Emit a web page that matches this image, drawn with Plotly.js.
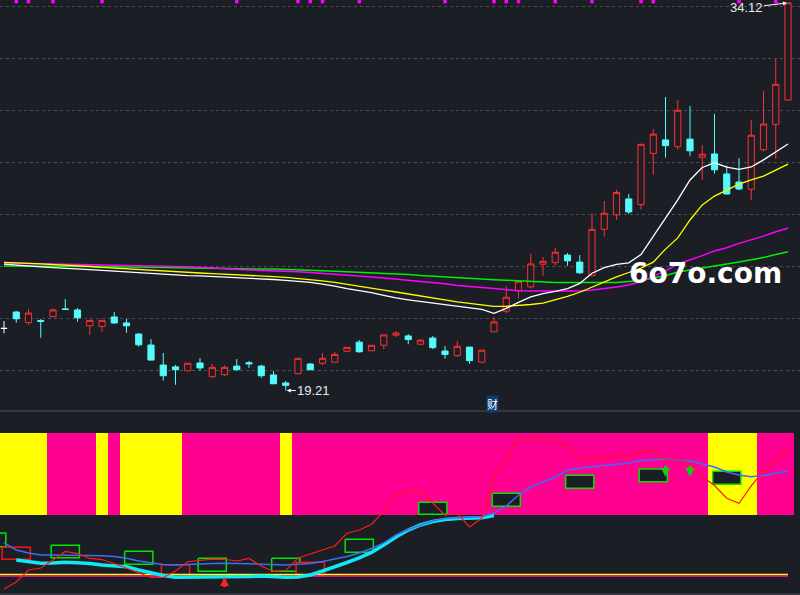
<!DOCTYPE html>
<html>
<head>
<meta charset="utf-8">
<script src="https://cdn.plot.ly/plotly-3.0.1.min.js"></script>
<style>
html,body{margin:0;padding:0;background:#1c1e25;}
#chart{width:800px;height:595px;}
</style>
</head>
<body>
<div id="chart"></div>
<script>
// ---------- candle data (index = trading day) ----------
const open  = [21.60,22.23,21.82,21.90,22.05,22.35,22.31,21.70,21.67,22.04,
               21.81,21.38,20.96,20.19,20.12,19.97,20.27,19.74,19.82,20.15,
               20.28,20.15,19.81,19.50,19.86,20.23,20.26,20.30,20.72,21.07,
               20.74,20.95,21.34,21.31,20.99,21.23,20.73,20.55,20.88,20.30,
               21.47,22.26,23.05,23.20,24.07,24.13,24.42,24.15,23.63,25.41,
               25.97,26.58,26.36,28.33,28.85,28.59,28.88,28.18,28.31,27.54,
               27.23,26.95,28.47,29.45,30.38];
const close = [21.60,21.97,22.19,21.87,22.31,22.33,22.01,21.91,21.91,21.81,
               21.70,20.97,20.38,19.78,20.01,20.26,20.08,20.10,20.10,20.01,
               20.24,19.78,19.47,19.41,20.45,20.01,20.45,20.60,20.87,20.70,
               20.95,21.35,21.42,21.17,21.15,20.86,20.60,20.91,20.36,20.76,
               21.85,22.80,23.41,24.08,24.18,24.53,24.20,23.74,25.41,26.03,
               26.83,26.08,28.68,29.07,28.63,29.99,28.43,28.30,27.70,26.77,
               26.96,29.03,29.46,30.99,34.12];
const high  = [21.88,22.27,22.35,21.96,22.36,22.73,22.38,21.91,21.91,22.23,
               21.96,21.42,21.19,20.65,20.19,20.26,20.46,20.23,20.18,20.42,
               20.35,20.20,19.96,19.58,20.45,20.27,20.65,20.69,20.87,21.15,
               20.95,21.35,21.50,21.38,21.19,21.31,20.92,21.12,20.88,20.76,
               22.03,23.23,23.45,24.47,24.35,24.70,24.50,24.42,26.03,26.50,
               26.93,26.77,28.68,29.27,30.50,30.38,30.15,28.65,29.85,27.86,
               28.15,29.62,30.73,31.96,34.12];
const low   = [21.41,21.82,21.74,21.24,22.05,22.33,21.86,21.35,21.47,21.77,
               21.43,20.90,20.38,19.59,19.43,19.97,19.97,19.70,19.77,19.97,
               20.08,19.70,19.47,19.21,19.86,20.01,20.19,20.30,20.68,20.67,
               20.74,20.80,21.26,20.99,20.99,20.80,20.43,20.51,20.24,20.26,
               21.47,22.19,22.76,23.13,23.63,24.01,24.01,23.69,23.63,25.13,
               25.78,26.00,26.17,27.51,28.17,28.47,28.24,27.32,27.55,26.74,
               26.92,26.55,28.40,28.12,30.38];

// ---------- moving averages ----------
const maWhite = [24.07,24.03,24.00,23.97,23.94,23.92,23.88,23.86,23.83,23.80,
                 23.78,23.75,23.72,23.69,23.67,23.63,23.62,23.60,23.58,23.56,
                 23.53,23.50,23.48,23.45,23.42,23.37,23.30,23.23,23.13,23.06,
                 22.98,22.87,22.77,22.70,22.64,22.57,22.50,22.44,22.39,22.33,
                 22.18,22.37,22.60,22.81,22.94,23.02,23.13,23.33,23.72,23.94,
                 24.06,24.12,24.44,25.13,25.83,26.54,27.31,27.79,27.97,27.80,
                 27.72,27.81,28.08,28.38,28.69];
const maYellow = [24.14,24.13,24.10,24.08,24.06,24.04,24.02,23.98,23.95,23.92,
                  23.89,23.87,23.83,23.81,23.78,23.76,23.73,23.71,23.69,23.67,
                  23.64,23.62,23.59,23.56,23.52,23.48,23.43,23.37,23.29,23.21,
                  23.13,23.07,23.00,22.92,22.84,22.77,22.69,22.62,22.56,22.51,
                  22.45,22.45,22.48,22.52,22.57,22.69,22.83,22.99,23.19,23.38,
                  23.58,23.75,23.92,24.15,24.65,25.08,25.77,26.35,26.69,26.92,
                  27.15,27.31,27.46,27.69,27.92];
const maMagenta = [24.12,24.11,24.10,24.10,24.10,24.08,24.07,24.07,24.06,24.05,
                   24.03,24.02,24.01,24.00,23.99,23.97,23.95,23.92,23.90,23.87,
                   23.85,23.83,23.82,23.81,23.78,23.75,23.72,23.69,23.65,23.62,
                   23.58,23.54,23.50,23.45,23.41,23.37,23.32,23.25,23.20,23.17,
                   23.13,23.08,23.05,23.04,23.04,23.04,23.04,23.04,23.08,23.13,
                   23.19,23.27,23.40,23.59,23.81,24.08,24.23,24.40,24.58,24.70,
                   24.87,25.00,25.15,25.32,25.45];
const maGreen = [24.00,24.00,24.00,23.99,23.99,23.98,23.98,23.98,23.97,23.97,
                 23.97,23.96,23.95,23.94,23.93,23.92,23.91,23.90,23.89,23.89,
                 23.88,23.88,23.88,23.87,23.85,23.83,23.82,23.80,23.78,23.77,
                 23.75,23.73,23.71,23.67,23.63,23.60,23.57,23.55,23.52,23.49,
                 23.47,23.45,23.43,23.40,23.38,23.37,23.37,23.37,23.37,23.37,
                 23.37,23.40,23.44,23.54,23.63,23.77,23.85,23.94,24.02,24.08,
                 24.15,24.23,24.33,24.44,24.55];

// top signal markers (days)
const signalDays = [1,2,4,8,19,24,25,26,29,36,40,41,42,45,48,52,53,60,63];
const signalLevel = 34.17;

// ---------- lower indicator ----------
const bandState = [1,1,1,1,0,0,0,0,1,0, 1,1,1,1,1,0,0,0,0,0,
                   0,0,0,1,0,0,0,0,0,0, 0,0,0,0,0,0,0,0,0,0,
                   0,0,0,0,0,0,0,0,0,0, 0,0,0,0,0,0,0,0,1,1,
                   1,1,0,0,0];
const bandTop = 100;
const redLine = [-90.2,-81.7,-67.1,-64.6,-54.9,-44.5,-47.0,-52.8,-54.3,-59.1,
                 -65.0,-70.7,-76.2,-76.2,-68.3,-57.0,-54.9,-53.7,-54.0,-56.1,
                 -53.0,-62.2,-68.9,-67.7,-52.4,-47.6,-43.3,-37.8,-22.3,-18.3,
                 -11.6,4.3,24.4,29.3,29.3,14.3,0.0,2.1,-14.6,-4.0,
                 47.6,67.1,93.5,93.5,93.5,93.5,82.9,67.1,68.3,71.3,
                 74.6,70.7,78.4,78.4,66.5,68.9,61.0,47.0,36.0,20.4,
                 14.3,35.4,53.7,67.1,79.3];
const blueLine = [-34.1,-42.7,-46.3,-48.8,-48.8,-48.8,-48.8,-49.4,-49.6,-50.6,
                  -52.8,-56.1,-57.9,-60.4,-61.0,-60.1,-59.8,-59.1,-58.9,-58.9,
                  -59.4,-60.0,-60.4,-61.0,-60.1,-59.1,-56.7,-53.7,-50.6,-46.3,
                  -40.9,-34.1,-24.4,-17.7,-12.2,-7.3,-4.3,-3.3,-2.7,-2.2,
                  2.4,11.0,24.4,34.1,40.2,46.3,54.9,57.3,58.9,60.4,
                  61.6,63.4,66.5,67.7,68.3,67.1,65.9,62.2,58.5,52.4,
                  48.8,46.7,48.2,50.9,53.7];
const cyanLine = [null,-54.9,-57.3,-58.9,-58.5,-57.7,-58.3,-59.1,-61.0,-62.2,
                  -63.0,-67.1,-70.7,-73.8,-76.0,-76.0,-76.0,-76.0,-76.0,-76.0,
                  -75.0,-74.4,-75.6,-76.0,-75.6,-73.2,-68.3,-63.4,-57.9,-52.4,
                  -45.7,-36.6,-26.8,-18.3,-12.2,-7.9,-5.5,-4.3,-3.7,-3.3,
                  -0.6];
const yellowLevel = -72.6;
const pinkLevel = -74.4;

const boxDay  = [-1, 1, 5, 11, 14, 17, 23, 25, 29, 35, 41, 47, 53, 59];
const boxHi   = [-22.0,-39.4,-37.0,-44.3,-60.6,-52.8,-52.8,-57.7,-29.6,15.5,26.5,48.4,56.1,53.3];
const boxLo   = [-38.7,-54.0,-52.1,-60.1,-75.2,-68.7,-68.7,-73.2,-45.5,0.9,10.6,32.6,40.6,37.4];
const boxKind = ['g','r','g','g','r','g','g','r','g','g','g','g','g','g'];

const upArrowDays = [18];
const downArrowDays = [54, 56];

// ---------- styling ----------
const BG = '#1c1e25';
const RED = '#ff3030';
const CYAN = '#54fcfc';
const N = close.length;
const days = close.map((_, i) => i);

const groups = {up:{x:[],open:[],high:[],low:[],close:[]},
                dn:{x:[],open:[],high:[],low:[],close:[]},
                flat:{x:[],open:[],high:[],low:[],close:[]}};
for (let i = 0; i < N; i++) {
  const g = close[i] > open[i] ? groups.up : (close[i] < open[i] ? groups.dn : groups.flat);
  g.x.push(i); g.open.push(open[i]); g.high.push(high[i]); g.low.push(low[i]); g.close.push(close[i]);
}
function candle(g, incCol, incFill, decCol, decFill) {
  return Object.assign({type:'candlestick', xaxis:'x', yaxis:'y', whiskerwidth:0,
    hoverinfo:'skip', showlegend:false,
    increasing:{line:{color:incCol,width:1}, fillcolor:incFill},
    decreasing:{line:{color:decCol,width:1}, fillcolor:decFill}}, g);
}
function line(y, color, width, yaxis) {
  return {type:'scatter', mode:'lines', x:days, y:y, xaxis:'x', yaxis:yaxis,
          line:{color:color, width:width}, hoverinfo:'skip', showlegend:false};
}

// boxes
function boxTrace(kind, color) {
  const xs = [], ys = [];
  boxDay.forEach((d, k) => {
    if (boxKind[k] !== kind) return;
    const a = d - 1.15, b = d + 1.15;
    xs.push(a, b, b, a, a, null);
    ys.push(boxHi[k], boxHi[k], boxLo[k], boxLo[k], boxHi[k], null);
  });
  return {type:'scatter', mode:'lines', x:xs, y:ys, xaxis:'x', yaxis:'y2',
          fill:'toself', fillcolor:BG, line:{color:color, width:1.5},
          hoverinfo:'skip', showlegend:false};
}

const data = [
  candle(groups.up, RED, BG, RED, BG),
  candle(groups.dn, CYAN, CYAN, CYAN, CYAN),
  candle(groups.flat, '#ffffff', '#ffffff', '#ffffff', '#ffffff'),
  line(maGreen, '#00ee00', 1.5, 'y'),
  line(maMagenta, '#ff00ff', 1.5, 'y'),
  line(maYellow, '#ffff00', 1.3, 'y'),
  line(maWhite, '#ffffff', 1.3, 'y'),
  {type:'scatter', mode:'markers', x:signalDays, y:signalDays.map(() => signalLevel),
   xaxis:'x', yaxis:'y', marker:{symbol:'square', size:3.5, color:'#ff00ff'},
   cliponaxis:false, hoverinfo:'skip', showlegend:false},
  // lower panel
  {type:'bar', x:days, y:days.map(() => bandTop), base:0, width:1, xaxis:'x', yaxis:'y2',
   marker:{color:bandState.map(s => s ? '#ffff00' : '#ff0090'), line:{width:0}},
   hoverinfo:'skip', showlegend:false},
  boxTrace('g', '#00e600'),
  boxTrace('r', '#ff1010'),
  {type:'scatter', mode:'lines', x:[days[0]-0.5, days[N-1]], y:[yellowLevel, yellowLevel],
   xaxis:'x', yaxis:'y2', line:{color:'#ffff00', width:1.5}, hoverinfo:'skip', showlegend:false},
  {type:'scatter', mode:'lines', x:[days[0]-0.5, days[N-1]], y:[pinkLevel, pinkLevel],
   xaxis:'x', yaxis:'y2', line:{color:'#ff1493', width:1.5}, hoverinfo:'skip', showlegend:false},
  line(cyanLine.concat(new Array(N - cyanLine.length).fill(null)), '#10e8f2', 3.5, 'y2'),
  line(blueLine, '#3d6df5', 1.5, 'y2'),
  line(redLine, '#ff1a1a', 1.2, 'y2')
];

const splitPx = 411, H = 595, W = 800;
const split = 1 - splitPx / H;

const annotations = [
  {xref:'x', yref:'y', x:N-1, y:high[N-1], ax:-42, ay:5, text:'34.12', showarrow:true,
   arrowhead:2, arrowsize:0.8, arrowwidth:1, arrowcolor:'#ffffff', standoff:1,
   font:{family:'Liberation Sans, Arial', size:13, color:'#e6e8ee'}},
  {xref:'x', yref:'y', x:23, y:low[23], ax:28, ay:0, text:'19.21', showarrow:true,
   arrowhead:2, arrowsize:0.8, arrowwidth:1, arrowcolor:'#ffffff', standoff:1,
   font:{family:'Liberation Sans, Arial', size:13, color:'#e6e8ee'}},
  {xref:'paper', yref:'paper', x:705/W, y:1-274/H, xanchor:'center', yanchor:'middle',
   text:'<b>6o7o.com</b>', showarrow:false,
   font:{family:'DejaVu Sans', size:28, color:'#ffffff'}},
  {xref:'x', yref:'paper', x:39.9, y:1-403.5/H, xanchor:'center', yanchor:'middle',
   text:'财', showarrow:false, bgcolor:'#0c3a72', borderpad:0,
   font:{family:'Noto Sans CJK SC', size:11, color:'#ffffff'}}
];
upArrowDays.forEach(d => annotations.push({xref:'x', yref:'y2', axref:'x', ayref:'y2',
  x:d, y:-75.6, ax:d, ay:-89.5, text:'', showarrow:true, arrowhead:2, arrowsize:0.6,
  arrowwidth:3, arrowcolor:'#ff2020'}));
downArrowDays.forEach(d => annotations.push({xref:'x', yref:'y2', axref:'x', ayref:'y2',
  x:d, y:46.3, ax:d, ay:61.5, text:'', showarrow:true, arrowhead:2, arrowsize:0.6,
  arrowwidth:3, arrowcolor:'#18c818'}));

const layout = {
  width:W, height:H, autosize:false,
  margin:{l:0, r:0, t:0, b:0, pad:0},
  paper_bgcolor:BG, plot_bgcolor:BG,
  showlegend:false, boxgap:0.28, bargap:0,
  xaxis:{range:[-4/12.25, 796/12.25], showgrid:false, zeroline:false, showticklabels:false,
         ticks:'', showline:false, rangeslider:{visible:false}, fixedrange:true},
  yaxis:{domain:[split, 1], range:[34 - (splitPx - 6)/26, 34 + 6/26], tick0:20, dtick:2,
         showgrid:true, gridcolor:'#4a4d57', griddash:'dot', gridwidth:1,
         zeroline:false, showticklabels:false, ticks:'', fixedrange:true},
  yaxis2:{domain:[0, split], range:[(515-595)/0.82, (515-splitPx)/0.82],
          showgrid:false, zeroline:false, showticklabels:false, ticks:'', fixedrange:true},
  shapes:[
    {type:'line', xref:'paper', yref:'paper', x0:0, x1:1, y0:split, y1:split,
     line:{color:'#3e414b', width:1.5}},
    {type:'line', xref:'paper', yref:'paper', x0:0, x1:1, y0:1-594/H, y1:1-594/H,
     line:{color:'#3e414b', width:1.5}}
  ],
  annotations:annotations
};

Plotly.newPlot('chart', data, layout, {displayModeBar:false, staticPlot:true});
</script>
</body>
</html>
